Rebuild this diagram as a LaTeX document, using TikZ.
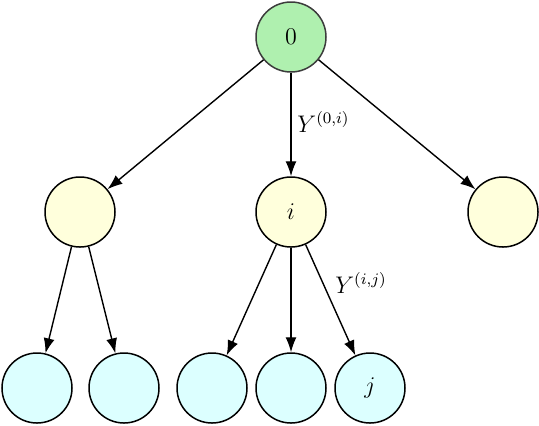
\documentclass[tikz,border=0pt]{standalone}
\usepackage{amsmath}
\usetikzlibrary{positioning,arrows.meta}
\definecolor{rootgreen}{RGB}{175,240,175}
\definecolor{midyellow}{RGB}{255,255,220}
\definecolor{leafcyan}{RGB}{220,255,255}
\definecolor{rimgray}{RGB}{60,60,60}
\tikzset{
  vnode/.style={circle,draw=black,line width=0.75pt,minimum size=35pt,inner sep=0pt,font=\large},
  rootv/.style={vnode,fill=rootgreen,draw=rimgray},
  midv/.style={vnode,fill=midyellow},
  leafv/.style={vnode,fill=leafcyan},
  tedge/.style={line width=0.7pt,-{Latex[length=7.5pt,width=5.5pt]}},
  elab/.style={font=\large,inner sep=1pt}
}
\begin{document}
\begin{tikzpicture}[x=0.5pt,y=-0.5pt]
  \useasboundingbox (0,0) rectangle (539,425);
  % top
  \node[rootv] (r) at (291,37) {$0$};
  % middle row
  \node[midv] (m1) at (80,212) {};
  \node[midv] (mi) at (291,212) {$i$};
  \node[midv] (m3) at (503,212) {};
  % leaves
  \node[leafv] (b1) at (37,388) {};
  \node[leafv] (b2) at (124,388) {};
  \node[leafv] (b3) at (212,388) {};
  \node[leafv] (b4) at (291,388) {};
  \node[leafv] (bj) at (370,388) {$j$};
  % edges
  \draw[tedge] (r) -- (m1);
  \draw[tedge] (r) -- (mi);
  \draw[tedge] (r) -- (m3);
  \draw[tedge] (m1) -- (b1);
  \draw[tedge] (m1) -- (b2);
  \draw[tedge] (mi) -- (b3);
  \draw[tedge] (mi) -- (b4);
  \draw[tedge] (mi) -- (bj);
  \node[elab,anchor=west] (l0i) at (295,122) {$Y^{(0,i)}$};
  \node[elab] (lij) at (361,283) {$Y^{(i,j)}$};
\end{tikzpicture}
\end{document}
